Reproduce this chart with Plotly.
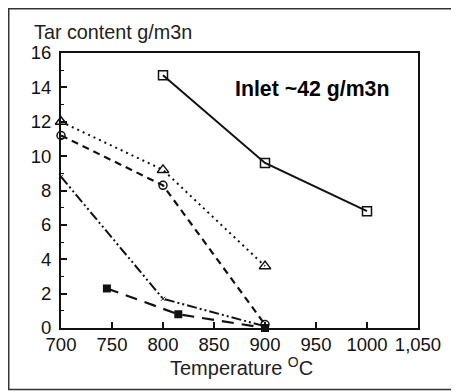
import plotly.graph_objects as go

# Data
temp_sq = [800, 900, 1000]
tar_sq = [14.7, 9.6, 6.8]

temp_tri = [700, 800, 900]
tar_tri = [12.0, 9.2, 3.6]

temp_circ = [700, 800, 900]
tar_circ = [11.2, 8.3, 0.2]

temp_ddot = [700, 800, 900]
tar_ddot = [8.8, 1.7, 0.1]

temp_fsq = [745, 815, 900]
tar_fsq = [2.3, 0.8, 0.0]

x_ticks = [700, 750, 800, 850, 900, 950, 1000, 1050]
x_labels = ["700", "750", "800", "850", "900", "950", "1000", "1,050"]
y_ticks = [0, 2, 4, 6, 8, 10, 12, 14, 16]

FONT = "Liberation Sans, Arial, sans-serif"
BLACK = "#111111"

fig = go.Figure()

fig.add_trace(go.Scatter(
    x=temp_sq, y=tar_sq, mode="lines+markers",
    line=dict(color=BLACK, width=2),
    marker=dict(symbol="square-open", size=9, color=BLACK, line=dict(width=1.5)),
    cliponaxis=False, showlegend=False))

fig.add_trace(go.Scatter(
    x=temp_tri, y=tar_tri, mode="lines+markers",
    line=dict(color=BLACK, width=2, dash="2px,4px"),
    marker=dict(symbol="triangle-up-open", size=10, color=BLACK, line=dict(width=1.5)),
    cliponaxis=False, showlegend=False))

fig.add_trace(go.Scatter(
    x=temp_circ, y=tar_circ, mode="lines+markers",
    line=dict(color=BLACK, width=2.2, dash="7px,5px"),
    marker=dict(symbol="circle-open", size=8, color=BLACK, line=dict(width=1.5)),
    cliponaxis=False, showlegend=False))

fig.add_trace(go.Scatter(
    x=temp_ddot, y=tar_ddot, mode="lines+markers",
    line=dict(color=BLACK, width=2, dash="10px,3px,2px,3px,2px,3px"),
    marker=dict(symbol="x-thin-open", size=4, color=BLACK, line=dict(width=1, color=BLACK)),
    cliponaxis=False, showlegend=False))

fig.add_trace(go.Scatter(
    x=temp_fsq, y=tar_fsq, mode="lines+markers",
    line=dict(color=BLACK, width=2.2, dash="12px,8px"),
    marker=dict(symbol="square", size=8, color=BLACK),
    cliponaxis=False, showlegend=False))

fig.update_layout(
    width=451, height=384,
    margin=dict(l=53, r=41, t=45, b=64),
    paper_bgcolor="white", plot_bgcolor="white",
    font=dict(family=FONT, size=18, color=BLACK),
    xaxis=dict(
        range=[700, 1050], tickvals=x_ticks, ticktext=x_labels,
        showgrid=False, zeroline=False,
        showline=True, linecolor=BLACK, linewidth=2, mirror=True,
        ticks="inside", ticklen=6, tickwidth=1.5, tickcolor=BLACK,
        ticklabelstandoff=-1,
        tickfont=dict(family=FONT, size=18.5, color=BLACK),
    ),
    yaxis=dict(
        range=[0, 16], tickvals=y_ticks,
        showgrid=False, zeroline=False,
        showline=True, linecolor=BLACK, linewidth=2, mirror=True,
        ticks="inside", ticklen=6, tickwidth=1.5, tickcolor=BLACK,
        ticklabelstandoff=4,
        minor=dict(dtick=1, ticks="inside", ticklen=3, tickwidth=1, tickcolor=BLACK, showgrid=False),
        tickfont=dict(family=FONT, size=18.5, color=BLACK),
    ),
    annotations=[
        dict(text="Tar content g/m3n", xref="paper", yref="paper",
             x=-0.0812, y=1.076, xanchor="left", yanchor="middle",
             showarrow=False, font=dict(family=FONT, size=19.8, color="#222222")),
        dict(text="Temperature <sup>O</sup>C", xref="paper", yref="paper",
             x=0.5045, y=-0.14, xanchor="center", yanchor="middle",
             showarrow=False, font=dict(family=FONT, size=20, color="#222222")),
        dict(text="<b>Inlet ~42 g/m3n</b>", xref="paper", yref="paper",
             x=0.482, y=0.869, xanchor="left", yanchor="middle",
             showarrow=False, font=dict(family=FONT, size=21.3, color="black")),
    ],
    shapes=[
        dict(type="rect", xref="paper", yref="paper",
             x0=-0.1464, x1=1.2, y0=-0.2236, y1=1.161,
             line=dict(color="#333333", width=1.5), fillcolor="rgba(0,0,0,0)",
             layer="below"),
    ],
)

fig.write_html("out.html")
